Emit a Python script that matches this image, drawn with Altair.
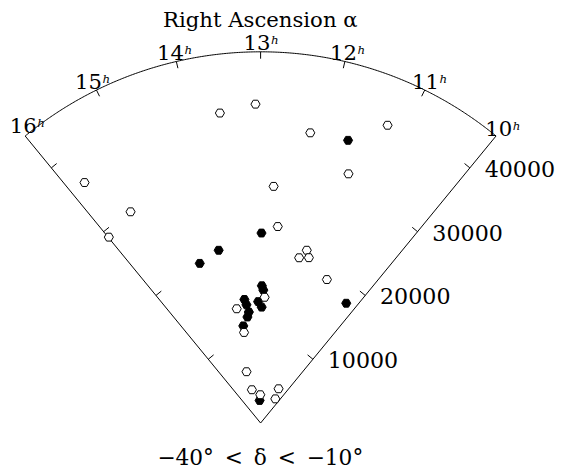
import altair as alt
import pandas as pd

# ---- data (RA in hours, cz in km/s) ----
open_ra = [13.57, 13.07, 12.26, 11.24, 11.52, 12.76, 15.76, 15.41, 15.99, 12.62, 11.86,
           12.00, 11.76, 11.11, 12.86, 13.90, 13.79, 14.17, 14.12, 13.05, 10.89, 10.61]
open_cz = [37900, 38660, 35690, 39240, 32030, 28730, 36130, 30070, 29090, 23910, 21680,
           20570, 20880, 19160, 15250, 14150, 11160, 6450, 4170, 3430, 4690, 3430]
filled_ra = [11.69, 12.98, 14.04, 14.59, 12.96, 12.91, 13.57, 13.52, 13.09, 12.96,
             13.46, 13.54, 13.77, 10.29, 13.19]
filled_cz = [35870, 23030, 21550, 20710, 16640, 16120, 15110, 14430, 14720, 14050,
             13530, 12950, 11960, 17850, 2740]

hours = [10, 11, 12, 13, 14, 15, 16]
hour_text = ["10", "11", "12", "13", "14", "15", "16"]
vel_ticks = [10000, 20000, 30000, 40000]
vel_text = ["10000", "20000", "30000", "40000"]
title_text = "Right Ascension α"
bottom_text = "−40°\u2002<\u2002δ\u2002<\u2002−10°"

# ---- geometry ----
RA0 = 13.0
DEG_PER_HOUR = 13.12
RMAX = 45000
PX = 0.00837          # px per km/s
W, H = 555, 465
APEX_X, APEX_Y = 256.3, 417.7
XDOM = [-APEX_X / PX, (W - APEX_X) / PX]
YDOM = [-(H - APEX_Y) / PX, APEX_Y / PX]
TICK = 7 / PX
FONT = "DejaVu Serif"

ALPHA = f"(({RA0} - datum.ra) * {DEG_PER_HOUR}) * PI / 180"

xs = alt.Scale(domain=XDOM, nice=False, zero=False)
ys = alt.Scale(domain=YDOM, nice=False, zero=False)


def X(f):
    return alt.X(f"{f}:Q", scale=xs, axis=None)


def Y(f):
    return alt.Y(f"{f}:Q", scale=ys, axis=None)


# arc of the wedge
arc = alt.Chart(alt.sequence(10, 16.001, 0.02, as_="ra")).transform_calculate(
    a=ALPHA
).transform_calculate(
    x=f"{RMAX} * sin(datum.a)", y=f"{RMAX} * cos(datum.a)"
).mark_line(color="black", strokeWidth=1).encode(x=X("x"), y=Y("y"), order="ra:Q")

# straight edges
edges = alt.Chart(pd.DataFrame({"ra": [hours[0], hours[-1]]})).transform_calculate(
    a=ALPHA
).transform_calculate(
    x0="0", y0="0", x1=f"{RMAX} * sin(datum.a)", y1=f"{RMAX} * cos(datum.a)"
).mark_rule(color="black", strokeWidth=1).encode(
    x=X("x0"), y=Y("y0"), x2="x1:Q", y2="y1:Q"
)

# hour ticks on arc
hdf = pd.DataFrame({"ra": hours, "lab": hour_text})
hticks = alt.Chart(hdf).transform_filter(
    "datum.ra > 10 && datum.ra < 16"
).transform_calculate(a=ALPHA).transform_calculate(
    x0=f"{RMAX} * sin(datum.a)", y0=f"{RMAX} * cos(datum.a)",
    x1=f"{RMAX - TICK} * sin(datum.a)", y1=f"{RMAX - TICK} * cos(datum.a)"
).mark_rule(color="black", strokeWidth=1).encode(
    x=X("x0"), y=Y("y0"), x2="x1:Q", y2="y1:Q"
)

LAB_R = 46200
SHIFT_X = 8 / PX   # keep the leftmost label inside the page
SHIFT_Y = 3 / PX
hlab = alt.Chart(hdf).transform_calculate(a=ALPHA).transform_calculate(
    x=f"{LAB_R} * sin(datum.a) + (datum.ra == 16 ? {SHIFT_X} : 0)",
    y=f"{LAB_R} * cos(datum.a) + (datum.ra == 16 ? {SHIFT_Y} : 0)"
)
hnum = hlab.mark_text(font=FONT, fontSize=21.5, align="right", baseline="alphabetic",
                      dx=10, dy=8, color="black").encode(x=X("x"), y=Y("y"), text="lab:N")
hsup = hlab.mark_text(font=FONT, fontSize=12, fontStyle="italic", align="left",
                      baseline="alphabetic", dx=10.5, dy=1.8, color="black").encode(
    x=X("x"), y=Y("y"), text=alt.value("h"))

# velocity ticks on both edges
vrows = [{"ra": r, "cz": v, "lab": t} for r in (hours[0], hours[-1])
         for v, t in zip(vel_ticks, vel_text)]
vdf = pd.DataFrame(vrows)
vbase = alt.Chart(vdf).transform_calculate(a=ALPHA).transform_calculate(
    s="datum.a > 0 ? 1 : -1"
).transform_calculate(
    x0="datum.cz * sin(datum.a)", y0="datum.cz * cos(datum.a)"
).transform_calculate(
    x1=f"datum.x0 - datum.s * {TICK} * cos(datum.a)",
    y1=f"datum.y0 + datum.s * {TICK} * sin(datum.a)"
)
vticks = vbase.mark_rule(color="black", strokeWidth=1).encode(
    x=X("x0"), y=Y("y0"), x2="x1:Q", y2="y1:Q")
vlabels = vbase.transform_filter("datum.ra == 10").mark_text(
    font=FONT, fontSize=22.5, align="left", baseline="middle", dx=15, dy=2, color="black"
).encode(x=X("x0"), y=Y("y0"), text="lab:N")

# galaxies
HEX = "M-1,0L-0.5,-0.866L0.5,-0.866L1,0L0.5,0.866L-0.5,0.866Z"
fdf = pd.DataFrame({"ra": filled_ra, "cz": filled_cz})
odf = pd.DataFrame({"ra": open_ra, "cz": open_cz})


def pts(df, fill):
    return alt.Chart(df).transform_calculate(a=ALPHA).transform_calculate(
        x="datum.cz * sin(datum.a)", y="datum.cz * cos(datum.a)"
    ).mark_point(shape=HEX, filled=True, fill=fill, stroke="black", strokeWidth=1,
                 size=85, opacity=1).encode(x=X("x"), y=Y("y"))


filled_pts = pts(fdf, "black")
open_pts = pts(odf, "white")

title = alt.Chart(pd.DataFrame({"t": [title_text]})).mark_text(
    font=FONT, fontSize=21.5, align="center", baseline="alphabetic", color="black"
).encode(x=alt.value(256), y=alt.value(15.5), text="t:N")
bottom = alt.Chart(pd.DataFrame({"t": [bottom_text]})).mark_text(
    font=FONT, fontSize=22, align="center", baseline="alphabetic", color="black"
).encode(x=alt.value(256), y=alt.value(460), text="t:N")

chart = alt.layer(
    arc, edges, hticks, vticks, hnum, hsup, vlabels, filled_pts, open_pts, title, bottom
).properties(
    width=W, height=H, padding=0, autosize=alt.AutoSizeParams(type="none")
).configure_view(stroke=None)

chart.save("out.html", embed_options={"renderer": "svg", "actions": False})
